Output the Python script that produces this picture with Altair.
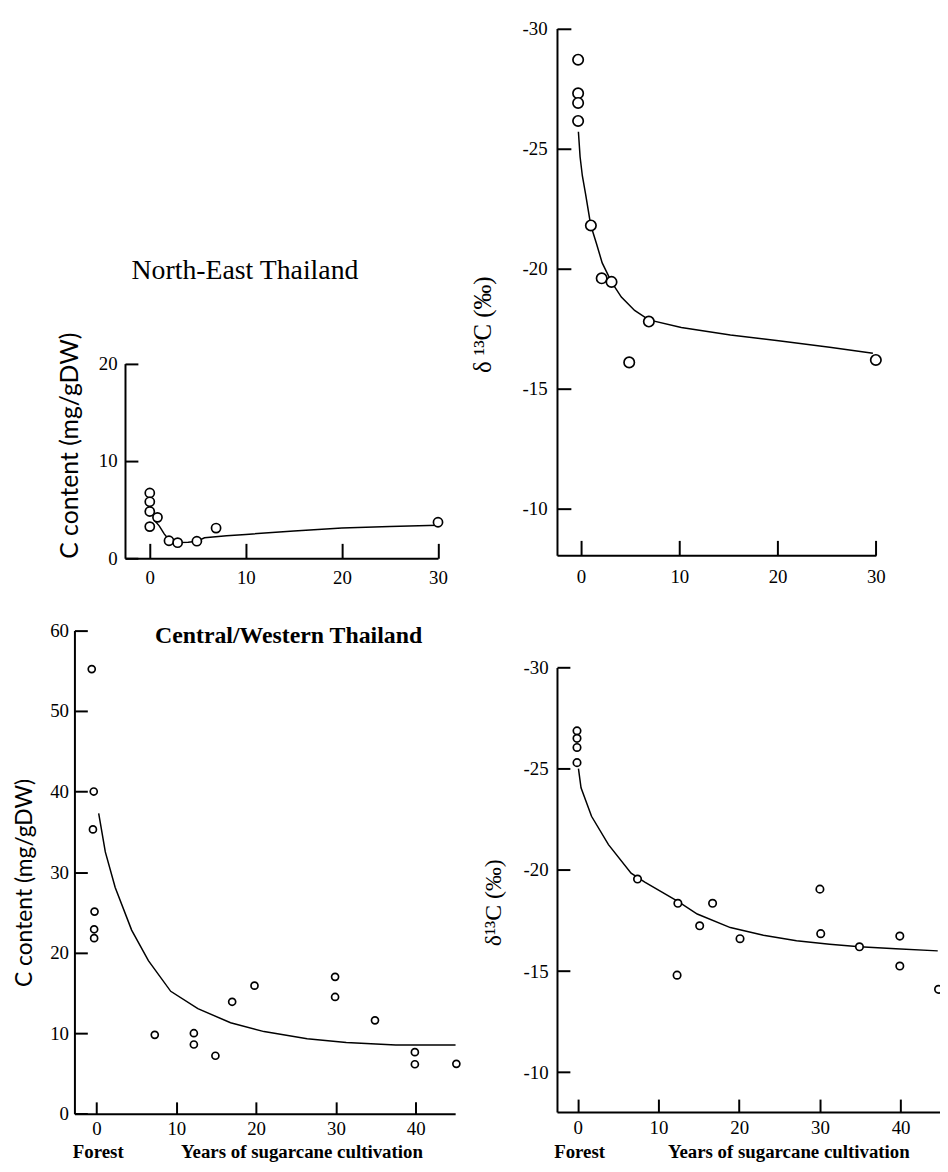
import altair as alt
import pandas as pd

SERIF = "Liberation Serif"
SANS = "Lato"
W_ALL, H_ALL = 940, 1156

# ---------------- data ----------------
# North-East Thailand, C content (mg/gDW)
ne_c_years = [0, 0, 0, 0, 0.8, 2.0, 2.9, 4.9, 6.9, 30]
ne_c_value = [6.7, 5.8, 4.8, 3.25, 4.2, 1.8, 1.6, 1.75, 3.1, 3.7]
ne_c_fit_years = [0.4, 1.0, 1.5, 2.0, 2.9, 4.0, 4.9, 5.7, 8.0, 10, 15, 20, 25, 30]
ne_c_fit_value = [4.0, 3.3, 2.5, 1.9, 1.62, 1.65, 1.75, 2.1, 2.3, 2.45, 2.8, 3.1, 3.25, 3.4]

# North-East Thailand, delta 13C
ne_d_years = [-0.3, -0.3, -0.3, -0.3, 1.0, 2.1, 3.1, 4.9, 6.9, 30]
ne_d_value = [-28.7, -27.3, -26.9, -26.15, -21.8, -19.6, -19.45, -16.1, -17.8, -16.2]
ne_d_fit_years = [-0.27, -0.1, 0.13, 0.47, 0.98, 1.58, 2.15, 3.09, 4.1, 5.45, 6.9,
                  10.2, 15.2, 20.1, 25.3, 29.7]
ne_d_fit_value = [-25.7, -24.66, -23.87, -23.08, -21.82, -21.03, -20.24, -19.45, -18.82,
                  -18.26, -17.87, -17.55, -17.24, -17.0, -16.73, -16.48]

# Central/Western Thailand, C content (mg/gDW)
cw_c_years = [-0.6, -0.35, -0.45, -0.25, -0.3, -0.3, 7.3, 12.2, 12.2, 14.9, 17.0, 19.8,
              29.9, 29.9, 34.9, 39.9, 39.9, 45.1]
cw_c_value = [55.2, 40.0, 35.3, 25.1, 22.9, 21.8, 9.8, 10.0, 8.6, 7.2, 13.9, 15.9,
              17.0, 14.5, 11.6, 7.65, 6.15, 6.2]
cw_c_fit_years = [0.27, 1.1, 2.34, 4.4, 6.5, 9.3, 12.7, 16.8, 21.0, 26.4, 31.3, 37.5, 45.0]
cw_c_fit_value = [37.3, 32.5, 28.1, 22.8, 19.0, 15.2, 13.05, 11.3, 10.2, 9.3, 8.85, 8.55, 8.55]

# Central/Western Thailand, delta 13C
cw_d_years = [-0.1, -0.1, -0.1, -0.1, 7.4, 12.4, 12.3, 15.1, 16.7, 20.1, 30.0, 30.1,
              34.9, 39.9, 39.9, 44.7]
cw_d_value = [-26.87, -26.5, -26.05, -25.3, -19.55, -18.35, -14.8, -17.24, -18.35, -16.6,
              -19.05, -16.85, -16.2, -16.73, -15.25, -14.1]
cw_d_fit_years = [0.08, 0.4, 1.7, 3.8, 6.6, 8.3, 12.4, 14.8, 18.9, 23.0, 27.1, 31.2,
                  34.9, 39.4, 44.6]
cw_d_fit_value = [-25.0, -24.06, -22.65, -21.25, -19.84, -19.4, -18.44, -17.82, -17.15,
                  -16.77, -16.5, -16.33, -16.2, -16.1, -16.0]

# tick values
ne_x_ticks = [0, 10, 20, 30]
ne_c_y_ticks = [0, 10, 20]
d_y_ticks = [-30, -25, -20, -15, -10]
cw_x_ticks = [0, 10, 20, 30, 40]
cw_c_y_ticks = [0, 10, 20, 30, 40, 50, 60]

LAB = dict(labelFont=SERIF, labelFontSize=19, labelColor="black", labelFlush=False,
           labelExpr="'' + datum.value", grid=False)


def ttl(text, font, size, weight, x, y, angle):
    return dict(title=text, titleFont=font, titleFontSize=size, titleFontWeight=weight,
                titleColor="black", titleX=x, titleY=y, titleAngle=angle,
                titleAlign="center", titleBaseline="alphabetic")


def panel(px, py, fx, fy, xdom, ydom, xrange_, yrange_, xvals, yvals, tx, ty,
          xpad, ypad, psize, xa_title=None, xb_title=None, ya_title=None, yb_title=None):
    """Panel placed on the shared canvas via explicit pixel ranges of its scales."""
    left, bottom = xrange_[0], max(yrange_)
    xs = alt.Scale(domain=xdom, range=xrange_, nice=False, zero=False)
    ys = alt.Scale(domain=ydom, range=yrange_, nice=False, zero=False)
    x_off = bottom - H_ALL

    # ticks (pointing inward) + tick labels
    xb = dict(orient="bottom", values=xvals, domain=False, ticks=True, tickSize=tx,
              tickWidth=2, tickColor="black", offset=x_off - tx, labelPadding=xpad, **LAB)
    xb.update(xb_title if xb_title else {"title": None})
    yb = dict(orient="left", values=yvals, domain=False, ticks=True, tickSize=ty,
              tickWidth=2, tickColor="black", offset=-left - ty, labelPadding=ypad, **LAB)
    yb.update(yb_title if yb_title else {"title": None})
    line = alt.Chart(pd.DataFrame({"x": fx, "y": fy})).mark_line(
        color="black", strokeWidth=1.5
    ).encode(
        x=alt.X("x:Q", scale=xs, axis=alt.Axis(**xb)),
        y=alt.Y("y:Q", scale=ys, axis=alt.Axis(**yb)),
    )

    # axis lines + titles
    xa = dict(orient="bottom", values=xvals, domain=True, domainColor="black",
              domainWidth=2, ticks=False, labels=False, grid=False, offset=x_off)
    xa.update(xa_title if xa_title else {"title": None})
    ya = dict(orient="left", values=yvals, domain=True, domainColor="black",
              domainWidth=2, ticks=False, labels=False, grid=False, offset=-left)
    ya.update(ya_title if ya_title else {"title": None})
    points = alt.Chart(pd.DataFrame({"x": px, "y": py})).mark_point(
        shape="circle", filled=True, fill="white", stroke="black", strokeWidth=1.7,
        size=psize, opacity=1
    ).encode(
        x=alt.X("x:Q", scale=xs, axis=alt.Axis(**xa)),
        y=alt.Y("y:Q", scale=ys, axis=alt.Axis(**ya)),
    )
    return [line, points]


layers = []
# North-East Thailand, C content
layers += panel(
    ne_c_years, ne_c_value, ne_c_fit_years, ne_c_fit_value,
    [-2.58, 30], [0, 20], [118, 433.7], [550, 353.7], ne_x_ticks, ne_c_y_ticks,
    15, 13, 10, 8, 85,
    xa_title=ttl("North-East Thailand", SERIF, 28, "normal", 238.5, -282, 0),
    ya_title=ttl("C content (mg/gDW)", SANS, 25, "normal", -47.7, 436, 270),
)
# North-East Thailand, delta 13C
layers += panel(
    ne_d_years, ne_d_value, ne_d_fit_years, ne_d_fit_value,
    [-2.45, 30], [-30, -8.07], [553.7, 875.3], [15.7, 547], ne_x_ticks, d_y_ticks,
    15, 14, 12, 10, 110,
    ya_title=ttl("δ  ¹³C  (‰)", SERIF, 25, "normal", -66.7, 314, 270),
)
# Central/Western Thailand, C content
layers += panel(
    cw_c_years, cw_c_value, cw_c_fit_years, cw_c_fit_value,
    [-2.77, 44.95], [0, 60], [67, 451], [1110.3, 622.8], cw_x_ticks, cw_c_y_ticks,
    12, 13, 6, 6, 50,
    xa_title=ttl("Years of sugarcane cultivation", SERIF, 19, "bold", 296, 43.7, 0),
    xb_title=ttl("Forest", SERIF, 19, "bold", 90.5, 55.7, 0),
    ya_title=ttl("C content (mg/gDW)", SANS, 23, "normal", -43, 877, 270),
    yb_title=ttl("Central/Western Thailand", SERIF, 24, "bold", 202.5, 635, 0),
)
# Central/Western Thailand, delta 13C
layers += panel(
    cw_d_years, cw_d_value, cw_d_fit_years, cw_d_fit_value,
    [-2.58, 44.88], [-30, -8.04], [553.7, 940], [660.2, 1108.5], cw_x_ticks, d_y_ticks,
    13, 13, 7, 9, 56,
    xa_title=ttl("Years of sugarcane cultivation", SERIF, 19, "bold", 787, 45.5, 0),
    xb_title=ttl("Forest", SERIF, 19, "bold", 576, 58.5, 0),
    ya_title=ttl("δ¹³C (‰)", SERIF, 24, "normal", -56.7, 897, 270),
)

chart = alt.layer(*layers).resolve_scale(
    x="independent", y="independent"
).resolve_axis(
    x="independent", y="independent"
).properties(
    width=W_ALL, height=H_ALL, padding=0, background="white",
    autosize=alt.AutoSizeParams(type="none"),
).configure_view(stroke=None)

chart.save("out.html", embed_options={"renderer": "svg", "actions": False})
